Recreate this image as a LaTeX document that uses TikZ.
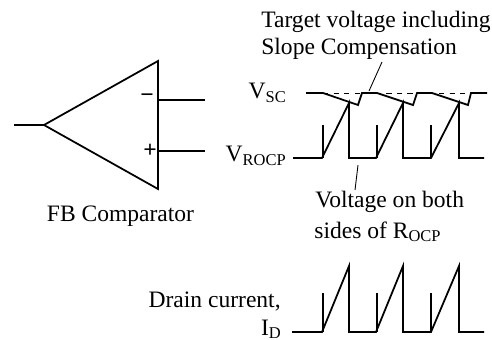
\documentclass[tikz,border=0pt]{standalone}
\usepackage{fontspec}
\setmainfont{Liberation Serif}
\tikzset{
	wave/.style={line width=1pt, line join=miter},
	label/.style={inner sep=0pt, font=\fontsize{13.4}{16}\selectfont},
}
\begin{document}
\begin{tikzpicture}[x=0.02cm, y=-0.02cm]
	\useasboundingbox (0,0) rectangle (492,340);
	% comparator
	\draw [wave] (44,125) -- (158,61) -- (158,189) -- cycle;
	\draw [wave] (14,125) -- (44,125);
	\draw [wave] (158,100) -- (205,100);
	\draw [wave] (158,151) -- (205,151);
	\node [label, anchor=center] (minus) at (147,98) {\textbf{\textminus}};
	\node [label, anchor=center] (plus) at (150,151) {\textbf{+}};
	\node [label, anchor=base] (fb) at (120.5,222) {FB Comparator};
	%
	% target voltage
	\draw [wave] (306,93) -- (323,93) -- (358,105) -- (362,93) -- (377,93) -- (413,105) -- (417,93) -- (432,93) -- (468,105) -- (471,93) -- (487,93);
	\draw [dashed, line width=0.5pt] (323,93) -- (471,93);
	%
	% voltage on the resistor
	\draw [wave] (293,158) -- (322,158) -- (349,103) -- (349,158) -- (376,158) -- (403,103) -- (403,158) -- (431,158) -- (459,103) -- (459,158) -- (484,158);
	\draw [wave] (323,125) -- (323,158);
	\draw [wave] (377,125) -- (377,158);
	\draw [wave] (431,125) -- (431,158);
	%
	% drain current
	\draw [wave] (292,332) -- (322,332) -- (349,266) -- (349,332) -- (376,332) -- (403,266) -- (403,332) -- (431,332) -- (459,266) -- (459,332) -- (484,332);
	\draw [wave] (323,293) -- (323,332);
	\draw [wave] (377,293) -- (377,332);
	\draw [wave] (431,293) -- (431,332);
	%
	\node [label, anchor=base west] (target) at (261,28) {Target voltage including};
	\node [label, anchor=base west] (slope) at (261,55) {Slope Compensation};
	\node [label, anchor=base east] (vsc) at (287,99) {V\textsubscript{SC}};
	\node [label, anchor=base east] (vrocp) at (287,162) {V\textsubscript{ROCP}};
	\node [label, anchor=base west] (both) at (315,208) {Voltage on both};
	\node [label, anchor=base west] (sides) at (314,238) {sides of R\textsubscript{OCP}};
	\node [label, anchor=base east] (drain) at (281,307) {Drain current,};
	\node [label, anchor=base east] (id) at (282,335) {I\textsubscript{D}};
	%
	\coordinate (targettip) at (369,91);
	\coordinate (bothtip) at (358,165);
	\draw [line width=0.5pt] (382,62) -- (targettip);
	\draw [line width=0.5pt] (bothtip) -- (355,190);
\end{tikzpicture}
\end{document}
